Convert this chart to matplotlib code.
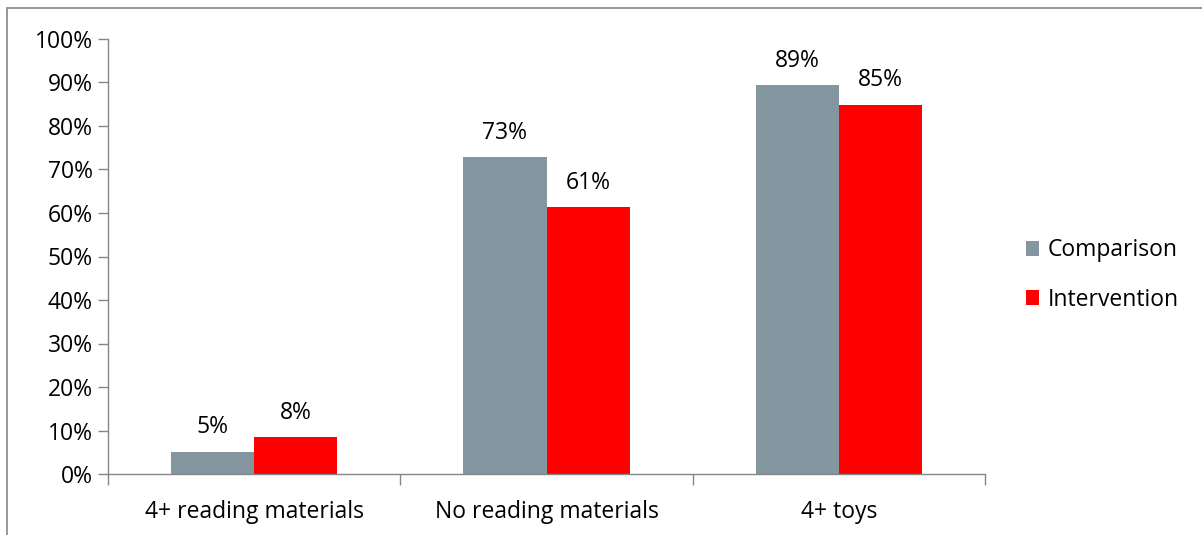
import numpy as np
import matplotlib.pyplot as plt
from matplotlib.patches import Rectangle

categories = ["4+ reading materials", "No reading materials", "4+ toys"]
comparison = [5.1, 72.8, 89.4]
intervention = [8.4, 61.3, 84.9]
series_names = ["Comparison", "Intervention"]
yticks = list(range(0, 101, 10))

GRAY = "#84969F"
RED = "#FF0000"
AXIS = "#868686"
FS = 16.5

plt.rcParams["font.family"] = ["Open Sans", "DejaVu Sans"]

fig = plt.figure(figsize=(12.02, 5.35), dpi=100)
W, H = 1202, 535
ax = fig.add_axes([108 / W, 1 - 474 / H, (985 - 108) / W, (474 - 39) / H])

x = np.arange(len(categories))
width = 0.285
b1 = ax.bar(x - width / 2, comparison, width, color=GRAY, label=series_names[0])
b2 = ax.bar(x + width / 2, intervention, width, color=RED, label=series_names[1])

for bars in (b1, b2):
    ax.bar_label(bars, labels=[f"{b.get_height():.0f}%" for b in bars],
                 padding=9, fontsize=FS, color="black")

ax.set_xlim(-0.5, len(categories) - 0.5)
ax.set_ylim(0, 100)
ax.set_yticks(yticks)
ax.set_yticklabels([f"{t}%" for t in yticks], fontsize=FS)

# category labels centred, ticks on the category boundaries
ax.set_xticks(np.arange(len(categories) + 1) - 0.5)
ax.set_xticklabels([])
ax.set_xticks(x, minor=True)
ax.set_xticklabels(categories, minor=True, fontsize=FS)
ax.tick_params(axis="x", which="major", length=8, color=AXIS, width=1)
ax.tick_params(axis="x", which="minor", length=0, pad=19)
ax.tick_params(axis="y", length=7, color=AXIS, width=1, pad=4)

for side in ("top", "right"):
    ax.spines[side].set_visible(False)
for side in ("left", "bottom"):
    ax.spines[side].set_color(AXIS)
    ax.spines[side].set_linewidth(1)

ax.legend(loc="center left", bbox_to_anchor=(1005 / W, 1 - 275 / H),
          bbox_transform=fig.transFigure, frameon=False, fontsize=FS,
          handlelength=0.6, handleheight=0.6, handletextpad=0.35,
          labelspacing=1.1)

# outer chart border
fig.patches.append(Rectangle((7 / W, -0.1), 1.2, 1 - 8 / H + 0.1,
                             transform=fig.transFigure, fill=False,
                             edgecolor=AXIS, linewidth=1.2))

fig.savefig("out.png", dpi=100)
